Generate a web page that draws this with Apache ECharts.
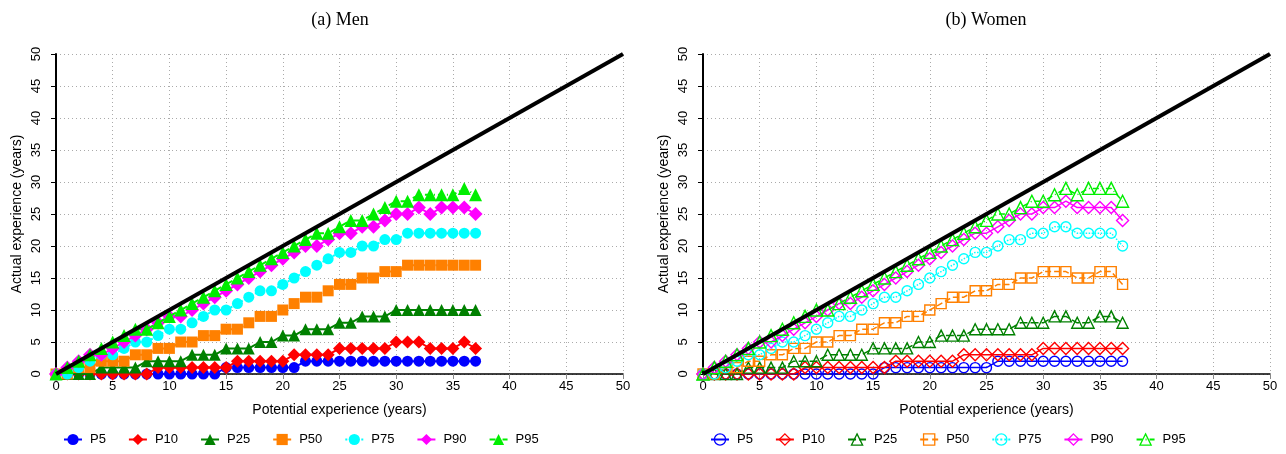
<!DOCTYPE html>
<html><head><meta charset="utf-8">
<script src="https://cdn.jsdelivr.net/npm/echarts@6/dist/echarts.min.js"></script>
<style>html,body{margin:0;padding:0;background:#fff}#c{width:1286px;height:454px}</style>
</head><body><div id="c"></div><script>
const potentialExp = [0,1,2,3,4,5,6,7,8,9,10,11,12,13,14,15,16,17,18,19,20,21,22,23,24,25,26,27,28,29,30,31,32,33,34,35,36,37];
const percentileNames = ['P5','P10','P25','P50','P75','P90','P95'];
const panelTitles = ['(a) Men','(b) Women'];
const diagonal = [[0,0],[50,50]];

const menP5  = [0,0,0,0,0,0,0,0,0,0, 0,0,0,0,0,1,1,1,1,1, 1,1,2,2,2,2,2,2,2,2, 2,2,2,2,2,2,2,2];
const menP10 = [0,0,0,0,0,0,0,0,0,1, 1,1,1,1,1,1,2,2,2,2, 2,3,3,3,3,4,4,4,4,4, 5,5,5,4,4,4,5,4];
const menP25 = [0,0,0,0,1,1,1,1,2,2, 2,2,3,3,3,4,4,4,5,5, 6,6,7,7,7,8,8,9,9,9, 10,10,10,10,10,10,10,10];
const menP50 = [0,0,1,1,2,2,2,3,3,4, 4,5,5,6,6,7,7,8,9,9, 10,11,12,12,13,14,14,15,15,16, 16,17,17,17,17,17,17,17];
const menP75 = [0,0,1,2,3,3,4,5,5,6, 7,7,8,9,10,10,11,12,13,13, 14,15,16,17,18,19,19,20,20,21, 21,22,22,22,22,22,22,22];
const menP90 = [0,1,2,3,3,4,5,6,7,8, 9,9,10,11,12,13,14,15,16,17, 18,19,20,20,21,22,22,23,23,24, 25,25,26,25,26,26,26,25];
const menP95 = [0,1,2,3,4,5,6,7,7,8, 9,10,11,12,13,14,15,16,17,18, 19,20,21,22,22,23,24,24,25,26, 27,27,28,28,28,28,29,28];

const womenP5  = [0,0,0,0,0,0,0,0,0,0, 0,0,0,0,0,0,1,1,1,1, 1,1,1,1,1,1,2,2,2,2, 2,2,2,2,2,2,2,2];
const womenP10 = [0,0,0,0,0,0,0,0,0,1, 1,1,1,1,1,1,1,2,2,2, 2,2,2,3,3,3,3,3,3,3, 4,4,4,4,4,4,4,4];
const womenP25 = [0,0,0,0,1,1,1,1,2,2, 2,3,3,3,3,4,4,4,4,5, 5,6,6,6,7,7,7,7,8,8, 8,9,9,8,8,9,9,8];
const womenP50 = [0,0,1,1,2,2,3,3,4,4, 5,5,6,6,7,7,8,8,9,9, 10,11,12,12,13,13,14,14,15,15, 16,16,16,15,15,16,16,14];
const womenP75 = [0,0,1,2,3,3,4,5,5,6, 7,8,9,9,10,11,12,12,13,14, 15,16,17,18,19,19,20,21,21,22, 22,23,23,22,22,22,22,20];
const womenP90 = [0,1,2,3,4,5,5,6,7,8, 9,10,11,11,12,13,14,15,16,17, 18,19,20,21,22,22,23,24,25,25, 26,26,27,26,26,26,26,24];
const womenP95 = [0,1,2,3,4,5,6,7,8,9, 10,10,11,12,13,14,15,16,17,18, 19,20,21,22,23,24,25,25,26,27, 27,28,29,28,29,29,29,27];

const menData = [menP5,menP10,menP25,menP50,menP75,menP90,menP95];
const womenData = [womenP5,womenP10,womenP25,womenP50,womenP75,womenP90,womenP95];

const colors = ['#0000ff','#ff0000','#008000','#ff8000','#00ffff','#ff00ff','#00ee00'];
const symbols = ['circle','diamond','triangle','rect','circle','diamond','triangle'];
const menSizes = [11,13,12,11,11,14,13];
const womenSizes = [10,12,11,10,10,12,12];
const lineTypes = ['solid','solid','solid','dashed','dotted','solid',[6,3,1,3]];
const womenLineTypes = ['solid','solid',[8,3],'dashed','dotted','solid',[6,3,1,3]];

const FONT = 'Liberation Sans';
const grids = [
  {left:56, right:663, top:54, bottom:80},
  {left:703, right:16, top:54, bottom:80}
];
function xAx(i){return {type:'value',gridIndex:i,min:0,max:50,interval:5,
  name:'Potential experience (years)',nameLocation:'middle',nameGap:29,
  nameTextStyle:{fontFamily:FONT,fontSize:14,color:'#000'},
  axisLine:{show:true,onZero:false,lineStyle:{color:'#000',width:1.5}},
  axisTick:{show:true,length:5,lineStyle:{color:'#888'}},
  axisLabel:{fontFamily:FONT,fontSize:13,color:'#000',margin:6},
  splitLine:{show:true,lineStyle:{color:'#aaa',type:[1,3],width:1}}};}
function yAx(i){return {type:'value',gridIndex:i,min:0,max:50,interval:5,
  name:'Actual experience (years)',nameLocation:'middle',nameGap:32,
  nameTextStyle:{fontFamily:FONT,fontSize:14,color:'#000'},
  axisLine:{show:true,onZero:false,lineStyle:{color:'#000',width:2}},
  axisTick:{show:true,length:5,lineStyle:{color:'#000'}},
  axisLabel:{fontFamily:FONT,fontSize:13,color:'#000',rotate:90,margin:13},
  splitLine:{show:true,lineStyle:{color:'#aaa',type:[1,3],width:1}}};}

const series = [];
percentileNames.forEach((p,k)=>{
  series.push({name:'Men '+p,type:'line',xAxisIndex:0,yAxisIndex:0,
    data:potentialExp.map((x,i)=>[x,menData[k][i]]),
    symbol:symbols[k],symbolSize:menSizes[k],showSymbol:true,
    itemStyle:{color:colors[k]},
    lineStyle:{color:colors[k],width:2,type:lineTypes[k]},z:2+k,animation:false});
});
percentileNames.forEach((p,k)=>{
  series.push({name:'Women '+p,type:'line',xAxisIndex:1,yAxisIndex:1,
    data:potentialExp.map((x,i)=>[x,womenData[k][i]]),
    symbol:symbols[k],symbolSize:womenSizes[k],showSymbol:true,
    itemStyle:{color:'transparent',borderColor:colors[k],borderWidth:1.4},
    lineStyle:{color:colors[k],width:1.5,type:womenLineTypes[k]},z:2+k,animation:false});
});
[0,1].forEach(i=>{
  series.push({name:'diag'+i,type:'line',xAxisIndex:i,yAxisIndex:i,data:diagonal,
    symbol:'none',lineStyle:{color:'#000',width:4},z:20,animation:false,silent:true});
});

const legendCommon = {bottom:3,itemWidth:18,itemHeight:14,itemGap:22,
  textStyle:{fontFamily:FONT,fontSize:13,color:'#000',padding:[0,0,0,3]},
  formatter:n=>n.replace(/^(Men|Women) /,'')};

const option = {
  animation:false,
  backgroundColor:'#fff',
  grid:grids,
  xAxis:[xAx(0),xAx(1)],
  yAxis:[yAx(0),yAx(1)],
  legend:[
    Object.assign({left:58,data:percentileNames.map(p=>'Men '+p)},legendCommon),
    Object.assign({left:705,selectedMode:false,data:percentileNames.map((p,k)=>({name:'Women '+p,
      itemStyle:{color:'transparent',borderColor:colors[k],borderWidth:1.3}}))},legendCommon)
  ],
  graphic:[
    {type:'text',x:340,y:11,style:{text:panelTitles[0],textAlign:'center',font:'18px "Liberation Serif"',fill:'#000'}},
    {type:'text',x:986,y:11,style:{text:panelTitles[1],textAlign:'center',font:'18px "Liberation Serif"',fill:'#000'}}
  ],
  series:series
};
const chart = echarts.init(document.getElementById('c'),null,{renderer:'canvas'});
chart.setOption(option);
</script></body></html>
